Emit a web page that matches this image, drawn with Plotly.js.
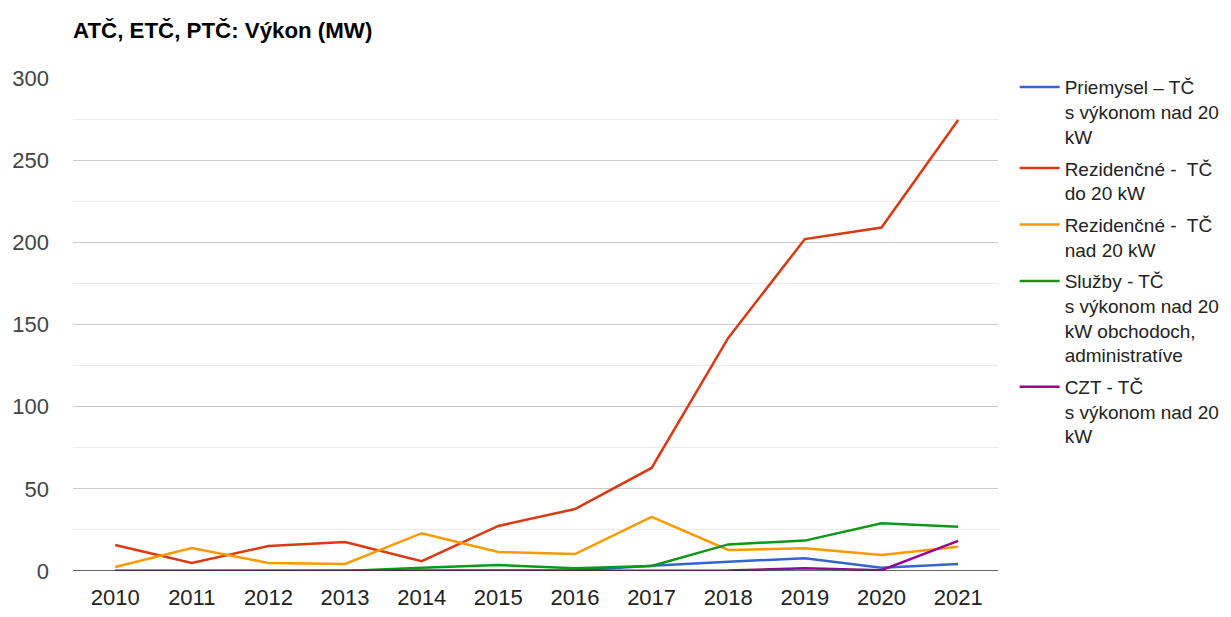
<!DOCTYPE html>
<html>
<head>
<meta charset="utf-8">
<script src="https://cdn.plot.ly/plotly-3.0.1.min.js"></script>
<style>html,body{margin:0;padding:0;background:#fff;}#chart{width:1231px;height:617px;}</style>
</head>
<body>
<div id="chart"></div>
<script>
var years = [2010, 2011, 2012, 2013, 2014, 2015, 2016, 2017, 2018, 2019, 2020, 2021];
var seriesNames = [
  "Priemysel – TČ<br>s výkonom nad 20<br>kW",
  "Rezidenčné -  TČ<br>do 20 kW",
  "Rezidenčné -  TČ<br>nad 20 kW",
  "Služby - TČ<br>s výkonom nad 20<br>kW obchodoch,<br>administratíve",
  "CZT - TČ<br>s výkonom nad 20<br>kW"
];
var priemysel = [0, 0, 0, 0, 0, 0, 0.3, 3.2, 5.7, 7.7, 2.0, 4.2];
var rezDo20 = [15.8, 4.9, 15.2, 17.6, 6.0, 27.4, 37.7, 62.7, 141.8, 202, 209, 274.5];
var rezNad20 = [2.4, 14.0, 4.9, 4.3, 23.0, 11.6, 10.3, 32.9, 12.8, 13.8, 9.7, 14.8];
var sluzby = [0, 0, 0, 0, 2.0, 3.6, 1.6, 3.0, 16.2, 18.5, 29.0, 27.0];
var czt = [0, 0, 0, 0, 0, 0, 0, 0, 0.3, 1.6, 0.5, 18.3];
var colors = ["#3366cc", "#dc3912", "#ff9900", "#109618", "#990099"];
var values = [priemysel, rezDo20, rezNad20, sluzby, czt];

var traces = values.map(function (v, i) {
  return {
    x: years, y: v, type: "scatter", mode: "lines", name: seriesNames[i],
    legendgroup: "g" + i,
    line: { color: colors[i], width: 2.5 }
  };
});

var font = "Arial, 'Liberation Sans', sans-serif";
var layout = {
  width: 1231, height: 617,
  margin: { l: 73, r: 233, t: 78, b: 46, autoexpand: false },
  paper_bgcolor: "#fff", plot_bgcolor: "#fff",
  font: { family: font, color: "#222" },
  title: {
    text: "<b>ATČ, ETČ, PTČ: Výkon (MW)</b>",
    font: { family: font, size: 22.3, color: "#000" },
    x: 73 / 1231, xref: "container", xanchor: "left",
    y: 1 - 30 / 617, yref: "container", yanchor: "middle"
  },
  xaxis: {
    range: [2009.45, 2021.52], tickvals: years, ticktext: years.map(String),
    showgrid: false, zeroline: false, showline: false,
    tickfont: { family: font, size: 22, color: "#222" },
    ticks: "", ticklabelstandoff: 11, fixedrange: true
  },
  yaxis: {
    range: [0, 300], dtick: 50, tick0: 0,
    showgrid: true, gridcolor: "#cccccc", gridwidth: 1,
    zeroline: false, showline: false,
    minor: { dtick: 25, showgrid: true, gridcolor: "#ebebeb", gridwidth: 1 },
    tickfont: { family: font, size: 22, color: "#444" },
    ticks: "", ticklabelstandoff: 23, fixedrange: true
  },
  shapes: [{
    type: "line", xref: "paper", yref: "y", x0: 0, x1: 1, y0: 0, y1: 0,
    line: { color: "#333", width: 1.5 }, layer: "above"
  }],
  showlegend: true,
  legend: {
    x: 1.018, xanchor: "left", y: 1.02, yanchor: "top",
    font: { family: font, size: 19, color: "#222" },
    valign: "top", itemwidth: 40, maxheight: 1000,
    tracegroupgap: 4, traceorder: "grouped",
    bgcolor: "rgba(0,0,0,0)"
  }
};

Plotly.newPlot("chart", traces, layout, { displayModeBar: false, staticPlot: true });
</script>
</body>
</html>
